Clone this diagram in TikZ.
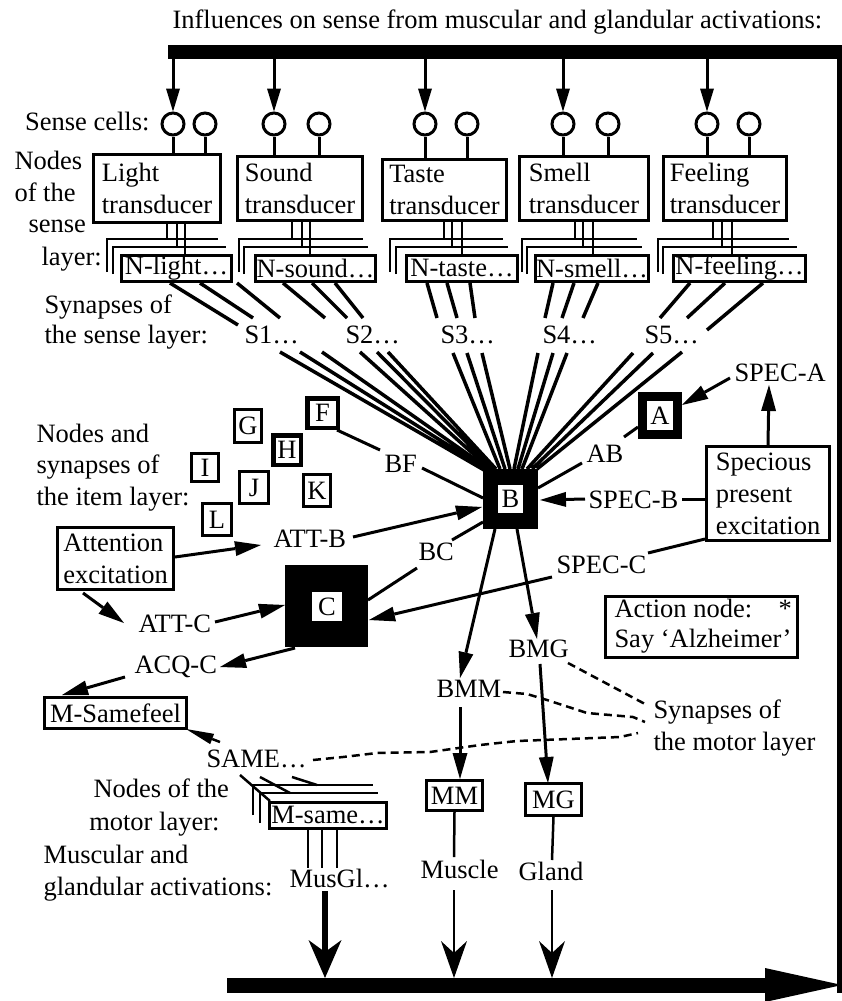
\documentclass[tikz,border=0pt]{standalone}
\usepackage{fontspec}
\setmainfont{Liberation Serif}
\usetikzlibrary{arrows.meta}
\begin{document}
\begin{tikzpicture}[x=1pt,y=-1pt,line width=3pt,
  every node/.style={font=\fontsize{26.5}{32}\selectfont,inner sep=0pt},
  lbl/.style={anchor=base west},
  lblr/.style={anchor=base east},
  box/.style={draw,line width=3pt,inner sep=0pt},
  tbox/.style={box,align=left},
  sense/.style={circle,draw,line width=3pt,minimum size=22pt},
  thin2/.style={line width=2.5pt},
  sl/.style={line width=3.5pt},
  arr/.style={-{Triangle[length=26pt,width=15pt,line width=0pt]}},
  sarr/.style={-{Triangle[length=28pt,width=11pt,line width=0pt]}},
  darr/.style={line width=3pt,-{Triangle[length=23pt,width=14pt,line width=0pt]}},
  barr/.style={line width=2.5pt,-{Stealth[length=37pt,width=26pt,inset=12pt,line width=0pt]}},
  bigarr/.style={line width=5.5pt,-{Stealth[length=38pt,width=33pt,inset=12pt,line width=0pt]}},
  dsh/.style={line width=2.5pt,dash pattern=on 8pt off 5pt},
]
\useasboundingbox (0,0) rectangle (842,1001);

% ---------- feedback loop ----------
\node[lbl] (hdr) at (171,28) {Influences on sense from muscular and glandular activations:};
\coordinate (topL) at (168,52);
\coordinate (topR) at (842,52);
\draw[line width=14pt] (topL) -- (topR);
\coordinate (rT) at (839,45);
\coordinate (rB) at (839,993);
\draw[line width=5pt] (rT) -- (rB);
\coordinate (botL) at (227,985);
\coordinate (botR) at (842,985);
\draw[line width=15pt,-{Triangle[length=77pt,width=34pt,line width=0pt]}] (botL) -- (botR);

% ---------- sense cells ----------
\foreach \n/\xa/\xb in {l/173/205,s/274/319,t/425/467,m/563/608,f/707/749}{
  \node[sense] (ca\n) at (\xa,124) {};
  \node[sense] (cb\n) at (\xb,124) {};
}
\node[lblr] (lcells) at (151,130) {Sense cells:};

% ---------- transducers ----------
\node[tbox,minimum width=127pt,minimum height=68pt] (Tl) at (157,188.5) {Light\\transducer};
\node[tbox,minimum width=125pt,minimum height=64pt] (Ts) at (300,188.5) {Sound\\transducer};
\node[tbox,minimum width=124pt,minimum height=61pt] (Tt) at (444.5,190) {Taste\\transducer};
\node[tbox,minimum width=129pt,minimum height=64pt] (Tm) at (584,188.5) {Smell\\transducer};
\node[tbox,minimum width=123pt,minimum height=64pt] (Tf) at (725,188.5) {Feeling\\transducer};

\foreach \n in {l,s,t,m,f}{
  \draw[darr] (ca\n.north |- topL) -- (ca\n.north);
  \draw (ca\n.south) -- (ca\n.south |- T\n.north);
  \draw (cb\n.south) -- (cb\n.south |- T\n.north);
}

\node[lbl] (ln1) at (13,169) {Nodes};
\node[lbl] (ln2) at (13,201) {of the};
\node[lbl] (ln3) at (27,232) {sense};
\node[lbl] (ln4) at (40,265) {layer:};

% ---------- sense layer nodes (stacks) ----------
\foreach \bx/\mx/\be/\me/\va/\vb/\vc in {107/113/218/226/167/177/185, 239/244/363/368/292/302/310, 390/396/503/508/444/452/462, 522/527/637/642/575/583/593, 658/663/789/797/713/722/732}{
  \draw[thin2] (\bx,272) |- (\be,239);
  \draw[thin2] (\mx,274) |- (\me,247);
  \draw[thin2] (\va,222) -- (\va,239);
  \draw[thin2] (\vb,222) -- (\vb,247);
  \draw[thin2] (\vc,222) -- (\vc,254);
}
\node[box,fill=white,minimum width=110pt,minimum height=26pt] (Nl) at (176.5,268.5) {N-light…};
\node[box,fill=white,minimum width=120pt,minimum height=26pt] (Ns) at (315.5,268.5) {N-sound…};
\node[box,fill=white,minimum width=111pt,minimum height=26pt] (Nt) at (462,268.5) {N-taste…};
\node[box,fill=white,minimum width=113pt,minimum height=26pt] (Nm) at (592,268.5) {N-smell…};
\node[box,fill=white,minimum width=132pt,minimum height=26pt] (Nf) at (739.5,268.5) {N-feeling…};

% ---------- sense layer synapses ----------
\node[lbl] (ls1) at (43,313) {Synapses of};
\node[lbl] (ls2) at (43,343) {the sense layer:};
\node[lbl] (S1) at (243,343) {S1…};
\node[lbl] (S2) at (344,343) {S2…};
\node[lbl] (S3) at (439,343) {S3…};
\node[lbl] (S4) at (541,343) {S4…};
\node[lbl] (S5) at (643,343) {S5…};

\draw[sl] (170,283)--(238,325) (200,283)--(253,318) (237,283)--(280,318);
\draw[sl] (280,352)--(484,470) (300,352)--(486,469) (322,352)--(489,469);
\draw[sl] (283,283)--(325,318) (312,283)--(347,318) (335,283)--(363,318);
\draw[sl] (360,352)--(490,469) (377,352)--(493,469) (388,352)--(496,469);
\draw[sl] (427,283)--(437,318) (447,283)--(457,318) (470,283)--(475,318);
\draw[sl] (453,353)--(500,469) (467,353)--(505,469) (482,353)--(510,469);
\draw[sl] (553,283)--(545,318) (574,283)--(562,318) (598,283)--(583,318);
\draw[sl] (538,353)--(514,469) (553,353)--(518,469) (567,353)--(522,469);
\draw[sl] (690,283)--(660,318) (725,283)--(687,318) (763,283)--(707,330);
\draw[sl] (633,353)--(527,469) (653,353)--(532,469) (682,352)--(537,469);

% ---------- item layer ----------
\node[lbl] (li1) at (35,442) {Nodes and};
\node[lbl] (li2) at (35,473) {synapses of};
\node[lbl] (li3) at (35,505) {the item layer:};

\node[box,line width=4.5pt,minimum width=30.5pt,minimum height=29.5pt] (F) at (322.5,413) {F};
\node[box,line width=4.5pt,minimum width=27.5pt,minimum height=29.5pt] (H) at (287,450) {H};
\node[box,minimum width=27pt,minimum height=33pt] (G) at (248,426) {G};
\node[box,minimum width=27pt,minimum height=28pt] (I) at (205,467.5) {I};
\node[box,minimum width=29pt,minimum height=32pt] (J) at (254,487.5) {J};
\node[box,minimum width=27pt,minimum height=32pt] (K) at (317,490.5) {K};
\node[box,minimum width=29pt,minimum height=32pt] (L) at (217,519.5) {L};
\node[box,line width=9pt,minimum width=35pt,minimum height=38pt] (A) at (660,415.5) {A};

\node[fill=black,minimum width=55pt,minimum height=60pt] (B) at (510.5,499) {};
\node[fill=white,minimum width=25pt,minimum height=28pt] (Bin) at (510.5,499) {B};
\node[fill=black,minimum width=83pt,minimum height=82pt] (C) at (326.5,606) {};
\node[fill=white,minimum width=30pt,minimum height=29pt] (Cin) at (327,606.5) {C};

\node[lbl] (BF) at (383,472) {BF};
\draw (337,430) -- (380,450);
\draw (422,468) -- (483,498);

\node[lbl] (AB) at (585,462) {AB};
\draw (638,427) -- (624,437);
\draw (582,463) -- (538,488);

\node[lbl] (SPECA) at (733,381) {SPEC-A};
\draw[arr] (730,378) -- (682,405);

\node[tbox,minimum width=123pt,minimum height=94pt] (Spec) at (768,493.5) {Specious\\present\\excitation};
\draw[arr] (Spec.north) -- (769,385);

\node[lbl] (SPECB) at (587,508) {SPEC-B};
\draw (Spec.west |- 0,499) -- (682,499);
\draw[arr] (585,499) -- (540,500);

\node[lbl] (SPECC) at (555,573) {SPEC-C};
\draw (705,539) -- (648,553);
\draw[arr] (552,577) -- (369,620);

\node[lbl] (BC) at (417,560) {BC};
\draw (483,522) -- (452,540);
\draw (417,568) -- (368,600);

\node[lbl] (ATTB) at (272,547) {ATT-B};
\draw[arr] (353,537) -- (482,507);

\node[tbox,minimum width=116pt,minimum height=62pt] (Att) at (115.5,558.5) {Attention\\excitation};
\draw[arr] (Att.east |- 0,557) -- (261,545);
\draw[arr] (83,593) -- (124,623);

\node[lbl] (ATTC) at (137,632) {ATT-C};
\draw[arr] (215,622) -- (285,605);

\node[lbl] (ACQC) at (133,673) {ACQ-C};
\draw[arr] (295,648) -- (220,667);

\node[box,minimum width=142pt,minimum height=31pt] (MSf) at (115.5,713) {M-Samefeel};
\draw[arr] (125,677) -- (62,695);

\node[lbl] (SAME) at (205,767) {SAME…};
\draw[sarr,line width=2.5pt] (220,742) -- (186,729);

% ---------- motor layer ----------
\node[lbl] (BMG) at (507,657) {BMG};
\node[lbl] (BMM) at (435,697) {BMM};
\draw[arr] (495,529) -- (460,678);
\draw[arr] (517,529) -- (537,639);

\node[box,minimum width=56pt,minimum height=30pt] (MM) at (454.5,795.5) {MM};
\node[box,minimum width=56pt,minimum height=32pt] (MG) at (553.5,799.5) {MG};
\draw[arr] (460,707) -- (MM.north -| 460,0);
\draw[arr] (540,664) -- (548,783);

\node[lbl] (lsm1) at (652,718) {Synapses of};
\node[lbl] (lsm2) at (652,750) {the motor layer};
\draw[dsh] (568,663) -- (645,704);
\draw[dsh] (503,692) -- (527,694) -- (547,700) -- (587,713) -- (633,717) -- (645,722);
\draw[dsh] (313,760) -- (343,757) -- (377,753) -- (430,752) -- (480,745) -- (517,741) -- (620,737) -- (638,733);

\node[box,minimum width=192pt,minimum height=61pt] (Act) at (701.5,627) {};
\node[lbl] (Act1) at (613,617) {Action node:};
\node[lbl] (Act2) at (777,617) {*};
\node[lbl] (Act3) at (613,647) {Say ‘Alzheimer’};

\draw[thin2] (253,815) |- (373,785);
\draw[thin2] (260,823) |- (378,793);
\draw[thin2] (240,775) -- (270,801);
\draw[thin2] (260,777) -- (290,793);
\draw[thin2] (292,777) -- (317,785);
\node[box,fill=white,minimum width=117pt,minimum height=26pt] (Msame) at (328,815.5) {M-same…};

\node[lbl] (lm1) at (92,797) {Nodes of the};
\node[lblr] (lm2) at (221,830) {motor layer:};
\node[lbl] (lm3) at (42,863) {Muscular and};
\node[lbl] (lm4) at (42,895) {glandular activations:};

\node[lbl] (MusGl) at (288,887) {MusGl…};
\node[lbl] (Muscle) at (419,878) {Muscle};
\node[lbl] (Gland) at (517,880) {Gland};

\draw[thin2] (308,830) -- (308,868);
\draw[thin2] (322,830) -- (322,868);
\draw[thin2] (337,830) -- (337,868);
\draw[thin2] (MM.south) -- (454,857);
\draw[thin2] (MG.south) -- (552,860);
\draw[bigarr] (325,891) -- (325,978);
\draw[barr] (454,890) -- (454,978);
\draw[barr] (552,890) -- (552,978);
\end{tikzpicture}
\end{document}
